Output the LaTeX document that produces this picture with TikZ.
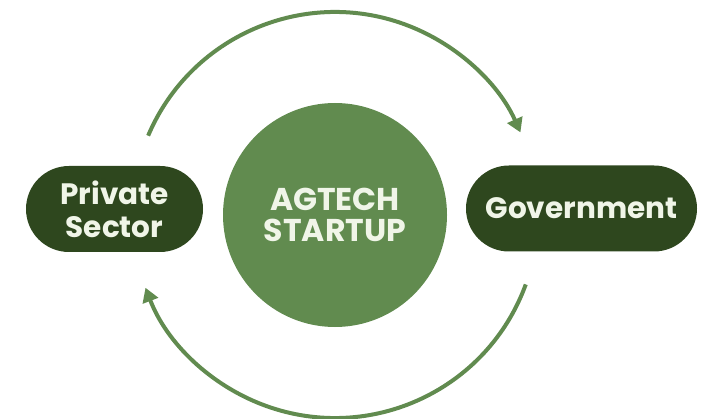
\documentclass[tikz,border=0pt]{standalone}
\usepackage{fontspec}
\setmainfont{Poppins}
\usetikzlibrary{calc, arrows.meta}
\definecolor{leaf}{RGB}{97,139,79}
\definecolor{darkleaf}{RGB}{46,71,30}
\definecolor{paletext}{RGB}{240,245,232}
\def\loopRadius{203}
\tikzset{
    party/.style={
        fill=darkleaf, rounded corners=43pt, minimum height=86pt,
        text=paletext, align=center, inner sep=0pt,
        font=\fontsize{29.5}{33}\selectfont\bfseries
    },
    hub/.style={
        circle, fill=leaf, minimum size=224pt, inner sep=0pt,
        text=paletext, align=center,
        font=\fontsize{31.5}{31}\selectfont\bfseries
    },
    cycle arrow/.style={
        draw=leaf, line width=4pt,
        -{Triangle[length=14pt, width=16pt]}
    }
}
\begin{document}
\begin{tikzpicture}[x=1pt, y=-1pt]
    \useasboundingbox (0,0) rectangle (706,419);

    \node[hub] (startup) at (335,215) {AGTECH\\STARTUP};
    \node[party, minimum width=177pt] (private) at (114.5,209) {Private\\Sector};
    \node[party, minimum width=231pt] (government) at (581.5,208.5) {Government};

    % the two halves of the cycle, both around the startup (y runs down)
    \draw[cycle arrow] ($(startup.center)+(-157:\loopRadius)$)
        arc[start angle=-157, end angle=-24, radius=\loopRadius];
    \draw[cycle arrow] ($(startup.center)+(20:\loopRadius)$)
        arc[start angle=20, end angle=159, radius=\loopRadius];
\end{tikzpicture}
\end{document}
